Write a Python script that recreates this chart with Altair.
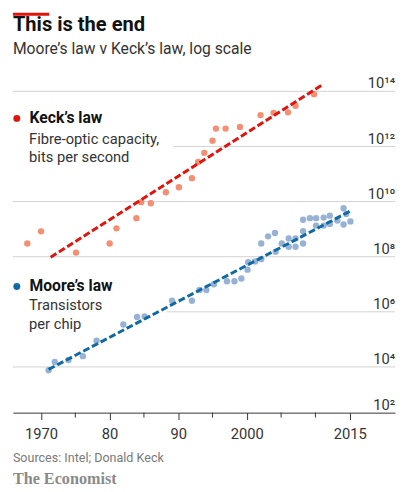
import altair as alt
import pandas as pd

# ---- data ----
keck_year = [1968.0, 1970.0, 1975.1, 1980.0, 1981.0, 1983.9, 1984.6, 1986.0, 1988.2, 1990.1,
             1992.0, 1992.9, 1993.8, 1995.0, 1995.5, 1996.9, 1999.0, 2002.0, 2003.9, 2006.0,
             2007.1, 2009.8]
keck_log = [8.48, 8.92, 8.15, 8.48, 9.03, 9.40, 9.98, 9.94, 10.34, 10.52,
            10.85, 11.44, 11.77, 12.21, 12.65, 12.65, 12.71, 13.14, 13.22, 13.24,
            13.48, 13.90]

moore_year = [1971.1, 1972.0, 1974.0, 1976.1, 1978.1, 1982.0, 1984.0, 1985.1, 1989.1, 1992.0,
              1993.1, 1994.1, 1995.2, 1997.1, 1998.2, 1999.2, 2000.1, 2000.2, 2001.2, 2002.1,
              2002.1, 2003.1, 2004.1, 2004.2, 2005.1, 2006.1, 2006.1, 2007.1, 2007.1, 2008.2,
              2008.2, 2008.2, 2009.2, 2010.1, 2010.1, 2011.2, 2011.2, 2012.1, 2012.1, 2013.2,
              2014.1, 2014.1, 2015.1, 2014.5]
moore_log = [3.88, 4.18, 4.25, 4.39, 4.95, 5.54, 5.81, 5.83, 6.40, 6.40,
             6.79, 6.79, 7.00, 7.11, 7.11, 7.21, 7.53, 7.80, 7.83, 7.91,
             8.48, 8.74, 8.86, 8.18, 8.48, 8.66, 8.36, 8.36, 8.66, 8.48,
             8.93, 9.34, 9.40, 9.40, 9.13, 9.42, 9.13, 9.49, 9.19, 9.31,
             9.76, 9.17, 9.28, 9.55]

keck_trend_year = [1971.4, 2010.9]
keck_trend_log = [7.98, 14.22]
moore_trend_year = [1971.1, 2015.1]
moore_trend_log = [3.91, 9.66]

grid_full = [4, 8, 10, 14]
grid_partial_12 = [12]
grid_partial_6 = [6]
label_exps = [4, 6, 8, 10, 12, 14]
bottom_exp = 2

major_years = [1970, 1980, 1990, 2000, 2015]
major_labels = ["1970", "80", "90", "2000", "2015"]
minor_years = [1975, 1985, 1995, 2005, 2010]

# ---- tables ----
sup = str.maketrans("0123456789", "⁰¹²³⁴⁵⁶⁷⁸⁹")
keck = pd.DataFrame({"year": keck_year, "v": [10 ** e for e in keck_log]})
moore = pd.DataFrame({"year": moore_year, "v": [10 ** e for e in moore_log]})
keck_t = pd.DataFrame({"year": keck_trend_year, "v": [10 ** e for e in keck_trend_log]})
moore_t = pd.DataFrame({"year": moore_trend_year, "v": [10 ** e for e in moore_trend_log]})
gfull = pd.DataFrame({"v": [10 ** e for e in grid_full]})
g12 = pd.DataFrame({"v": [10 ** e for e in grid_partial_12]})
g6 = pd.DataFrame({"v": [10 ** e for e in grid_partial_6]})
ylab = pd.DataFrame({"v": [10 ** e for e in label_exps],
                     "t": ["10" + str(e).translate(sup) for e in label_exps]})
minor = pd.DataFrame({"year": minor_years})

W, H = 390, 356
FONT = "Roboto"
DARK = "#333333"

xs = alt.Scale(domain=[1965.9, 2021.61], nice=False, zero=False)
ys = alt.Scale(type="log", domain=[10 ** 2.34, 10 ** 15], nice=False)

label_expr = " : ".join(
    f"datum.value == {y} ? '{l}'" for y, l in zip(major_years, major_labels)) + " : ''"

x_axis = alt.Axis(values=major_years, labelExpr=label_expr, grid=False, title=None,
                  domainColor=DARK, domainWidth=1, tickColor=DARK, tickSize=7, tickWidth=1,
                  labelFont=FONT, labelFontSize=15, labelColor=DARK,
                  labelBaseline="alphabetic", labelPadding=19, labelFlush=False)

X = alt.X("year:Q", scale=xs, axis=x_axis)
Y = alt.Y("v:Q", scale=ys, axis=None)

grid_color = "#d2d2d2"
grid_a = alt.Chart(gfull).mark_rule(color=grid_color, strokeWidth=1).encode(
    y=Y, x=alt.value(0), x2=alt.value(W))
grid_b = alt.Chart(g12).mark_rule(color=grid_color, strokeWidth=1).encode(
    y=Y, x=alt.value(164), x2=alt.value(W))
grid_c = alt.Chart(g6).mark_rule(color=grid_color, strokeWidth=1).encode(
    y=Y, x=alt.value(157), x2=alt.value(W))

ylabels = alt.Chart(ylab).mark_text(font=FONT, fontSize=15, color=DARK, align="right",
                                    baseline="alphabetic", dy=-3).encode(
    y=Y, x=alt.value(W), text="t:N")
ybottom = alt.Chart(pd.DataFrame({"t": ["10" + str(bottom_exp).translate(sup)]})).mark_text(
    font=FONT, fontSize=15, color=DARK, align="right", baseline="alphabetic", dy=-3).encode(
    y=alt.value(H), x=alt.value(W), text="t:N")

minor_ticks = alt.Chart(minor).mark_rule(color=DARK, strokeWidth=1).encode(
    x=X, y=alt.value(H), y2=alt.value(H + 5))

keck_pts = alt.Chart(keck).mark_circle(size=42, color="#f4896c", opacity=0.95).encode(
    x=X, y=Y)
moore_pts = alt.Chart(moore).mark_circle(size=42, color="#7e9fcb", opacity=0.8).encode(
    x=X, y=Y)

keck_line = alt.Chart(keck_t).mark_line(color="#e3120b", strokeWidth=3,
                                        strokeDash=[7, 3]).encode(x=X, y=Y)
moore_line = alt.Chart(moore_t).mark_line(color="#0f6aa3", strokeWidth=3,
                                          strokeDash=[7, 3]).encode(x=X, y=Y)

one = pd.DataFrame({"a": [0]})


def txt(s, x, y, size, weight="normal", color=DARK, font=FONT):
    return alt.Chart(one).mark_text(text=s, font=font, fontSize=size, fontWeight=weight,
                                    color=color, align="left", baseline="alphabetic").encode(
        x=alt.value(x), y=alt.value(y))


def dot(x, y, color):
    return alt.Chart(one).mark_circle(size=50, color=color, opacity=1).encode(
        x=alt.value(x), y=alt.value(y))


red_bar = alt.Chart(one).mark_rect(color="#e3120b").encode(
    x=alt.value(0), x2=alt.value(37), y=alt.value(-52), y2=alt.value(-49))

title = txt("This is the end", 0, -33, 20.5, "bold", "#121212")
subtitle = txt("Moore’s law v Keck’s law, log scale", 0, -10, 16, "normal", DARK)

leg = [
    dot(4, 55.7, "#e3120b"),
    txt("Keck’s law", 17, 60, 16, "bold", "#121212"),
    txt("Fibre-optic capacity,", 16.5, 81.5, 15),
    txt("bits per second", 16.5, 100.5, 15),
    dot(4, 227.3, "#0f6aa3"),
    txt("Moore’s law", 17, 231.7, 16, "bold", "#121212"),
    txt("Transistors", 16.5, 251.7, 15),
    txt("per chip", 16.5, 271, 15),
]

sources = txt("Sources: Intel; Donald Keck", 0, 406, 12.8, "normal", "#7a7a7a")
brand = txt("The Economist", 0, 429, 16.5, "bold", "#8a8a8a", "Liberation Serif")

chart = alt.layer(
    grid_a, grid_b, grid_c, minor_ticks, ylabels, ybottom,
    keck_pts, moore_pts, keck_line, moore_line,
    red_bar, title, subtitle, *leg, sources, brand,
).properties(
    width=W, height=H,
    padding={"left": 5, "top": 52, "right": 3, "bottom": 76},
    autosize=alt.AutoSizeParams(type="none"),
).configure_view(stroke=None)

chart.save("out.html", embed_options={"renderer": "svg", "actions": False})
